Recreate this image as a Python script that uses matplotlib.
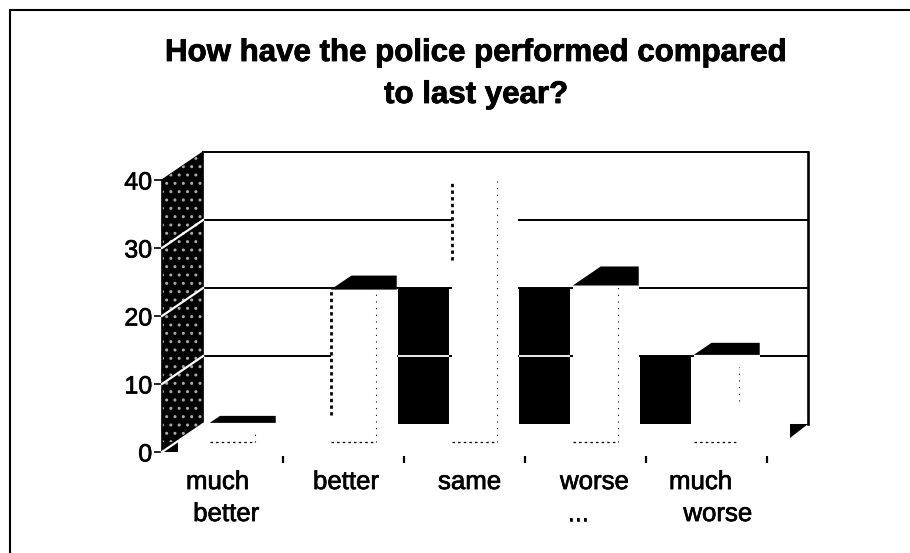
#!/usr/bin/env python

import numpy as np
import matplotlib
matplotlib.use('Agg')
import matplotlib.pyplot as plt
import matplotlib.patheffects as pe
from matplotlib.patches import Polygon

matplotlib.rc('font', family=['Liberation Sans', 'DejaVu Sans'])
matplotlib.rc('hatch', linewidth=1.0)

categories = ['much\n better', 'better', 'same', 'worse\n ...', 'much\n  worse']
values = [2.8, 22.4, 38.5, 23.0, 12.8]
shadow_values = [20, 20, 10]
shadow_slots = [1, 2, 3]
y_ticks = [0, 10, 20, 30, 40]
x_ticks = [1, 2, 3, 4, 5]

# how far back the black top of each bar reaches, in wall depths
top_depths = [0.25, 0.5, 0.0, 0.68, 0.43]
# parts of the broken outline still visible: (low, high) in bar height
left_spans = [(0, 0), (4, 22.4), (26.8, 38.5), (0, 0), (0, 0)]
right_spans = [(0, 1.5), (0, 22.4), (0, 38.5), (0, 23.0), (6, 11)]
# horizontal nudge of each axis label, in pixels from the category start
label_shift = [24, 30, 34, 35, 23]

# depth of the 3d box, in category and value units
depth_x = 0.34
depth_y = 4.12
bar_width = 0.375


def project(x, y, d):
    # d runs from 0 at the front of the floor to 1 at the back wall
    return x + d * depth_x, y + d * depth_y


def quad(ax, pts, **kw):
    ax.add_patch(Polygon(pts, closed=True, **kw))


fig = plt.figure(figsize=(9.10, 5.53), dpi=100)

# y=0 sits at pixel row 452 and y=40 at row 180, x=0..5 spans columns 162..767
x0, x5 = 162.0, 767.0
y0, y40 = 452.0, 180.0
bottom_px = 456.0
top_px = 150.0
ax = fig.add_axes([x0 / 910, 1 - bottom_px / 553, (x5 - x0) / 910,
                   (bottom_px - top_px) / 553])
ax.set_xlim(0, 5)
ax.set_ylim((y0 - bottom_px) / (y0 - y40) * 40, (y0 - top_px) / (y0 - y40) * 40)
ax.patch.set_visible(False)

# outer frame, only the left and top edges survive
fig.add_artist(plt.Line2D([9.5 / 910, 9.5 / 910, 1], [0, 1 - 9.5 / 553, 1 - 9.5 / 553],
                          color='black', lw=1.5))

# gridlines on the back wall
for v in y_ticks[1:]:
    bx, by = project(0, v, 1)
    ex, ey = project(5, v, 1)
    ax.plot([bx, ex], [by, ey], color='black', lw=1.4, clip_on=False, zorder=1)

# right edge of the back wall
ax.plot([project(5, 0, 1)[0]] * 2, [project(5, 0, 1)[1], project(5, 40, 1)[1]],
        color='black', lw=1.9, clip_on=False, zorder=1)
ax.plot([0, project(0, 40, 1)[0]], [40, project(0, 40, 1)[1]], color='black', lw=1, clip_on=False)
ax.plot([project(0, 0, 1)[0]] * 2, [project(0, 0, 1)[1], project(0, 40, 1)[1]],
        color='black', lw=1.2, clip_on=False, zorder=3)

# speckled side wall, one panel per tick interval
for lo, hi in zip(y_ticks[:-1], y_ticks[1:]):
    quad(ax, [project(0, lo, 0), project(0, lo, 1), project(0, hi, 1), project(0, hi, 0)],
         facecolor='black', edgecolor='#aaaaaa', hatch='..', lw=0, clip_on=False, zorder=2)
    ax.plot([0, depth_x], [lo, lo + depth_y], color='white', lw=1.6, clip_on=False, zorder=3)

# floor corners
quad(ax, [(0, 0), (0.13, 0), (0.13, 1.5), (0, 1.5)], facecolor='black', lw=0, zorder=2)
quad(ax, [(5 + depth_x * 0.56, depth_y), (5 + depth_x, depth_y),
          (5 + depth_x * 0.56, depth_y * 0.5)],
     facecolor='black', lw=0, clip_on=False, zorder=2)

# bars: white body covering the gridlines, black top, broken outline on the front
d_front, d_back = 0.36, 0.86
for i, v in enumerate(values):
    left = i + 0.5 - bar_width / 2 - 0.04
    right = left + bar_width
    fx, fy = project(left, 0, d_front)
    rx, _ = project(right, 0, d_front)
    bx, _ = project(right, 0, d_back)
    ax.bar(fx, v, width=bx - fx, bottom=fy, align='edge', color='white', zorder=4)
    ax.plot([fx, rx], [fy, fy], color='black', lw=0.9, ls=(0, (2, 2.5)), zorder=5)
    lo, hi = left_spans[i]
    if hi > lo:
        ax.plot([fx, fx], [fy + lo, fy + hi], color='black', lw=2.0, ls=(0, (1.2, 1.2)), zorder=5)
    lo, hi = right_spans[i]
    ax.plot([rx, rx], [fy + lo, fy + hi], color='black', lw=0.8, ls=(0, (1, 5)), zorder=5)
    if top_depths[i] > 0:
        tx, ty = project(fx, fy + v, top_depths[i])
        quad(ax, [(fx, fy + v), (tx, ty), (bx, ty), (bx, fy + v)],
             facecolor='black', lw=0, zorder=6)

# black blocks standing against the back wall, split by the white line at 10
for slot, v in zip(shadow_slots, shadow_values):
    bx, by = project(slot + 0.61, 0, 1)
    ax.bar(bx, v, width=0.42, bottom=by, align='edge', color='black', zorder=4)
    if v > 10:
        ax.plot([bx, bx + 0.42], [by + 10, by + 10], color='white', lw=1.3,
                solid_capstyle='butt', zorder=5)

ax.set_xticks(x_ticks)
ax.set_xticklabels([])
ax.set_yticks(y_ticks)
ax.tick_params(axis='y', labelsize=18, length=6, width=1.2, pad=1)
ax.tick_params(axis='x', length=5, width=1.6, direction='out')
for name in ['top', 'right', 'bottom']:
    ax.spines[name].set_visible(False)
ax.spines['left'].set_bounds(0, 40)
ax.spines['left'].set_linewidth(1.2)

thick = [pe.withStroke(linewidth=0.5, foreground='black')]
for tick in ax.get_yticklabels():
    tick.set_path_effects(thick)

for i, label in enumerate(categories):
    ax.annotate(label, xy=(i, 0), xytext=(label_shift[i] * 0.72, -13),
                textcoords='offset points', fontsize=18.6, va='top', ha='left',
                linespacing=1.42, annotation_clip=False, path_effects=thick)

heavy = [pe.withStroke(linewidth=0.6, foreground='black')]
fig.text(476 / 910, 1 - 53 / 553, 'How have the police performed compared', ha='center',
         va='center', fontsize=22.5, fontweight='bold', path_effects=heavy)
fig.text(476 / 910, 1 - 95 / 553, 'to last year?', ha='center', va='center',
         fontsize=22.5, fontweight='bold', path_effects=heavy)

plt.savefig('out.png', dpi=100)
